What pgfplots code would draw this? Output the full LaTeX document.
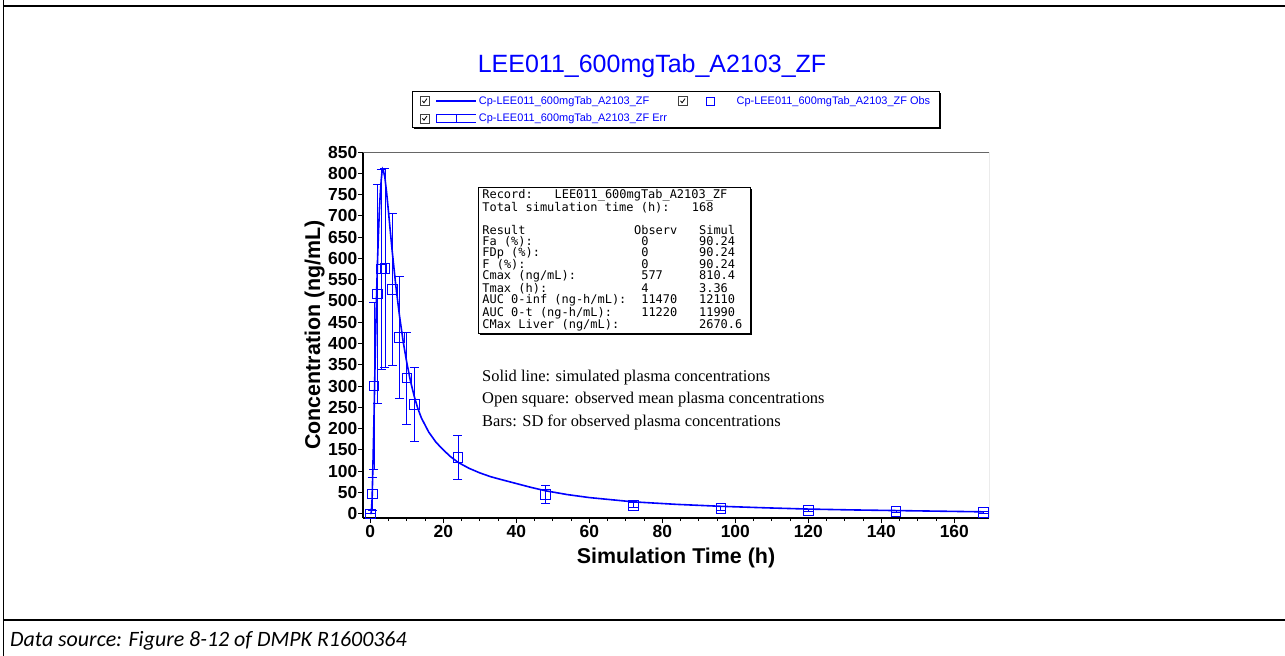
\documentclass[border=0pt]{standalone}
\usepackage{fontspec}
\setmainfont{Liberation Sans}
\newfontfamily\timesfont{Liberation Serif}
\newfontfamily\monofont{DejaVu Sans Mono}
\newfontfamily\capfont{Carlito}
\usepackage{pgfplots}
\usepackage{pgfplotstable}
\pgfplotsset{compat=1.18}
\definecolor{pkblue}{RGB}{0,0,255}
\newcommand\fs[1]{\fontsize{#1}{#1}\selectfont}
\newlength\cw
\setlength{\cw}{7.224bp}
\newcommand\col[2]{\makebox[#1\cw][l]{#2}}
\newcommand\s{\hspace*{\cw}}
\newcommand\chkbox{%
  \draw[black!75, line width=0.7bp, fill=white] (0bp,-4.5bp) rectangle (9bp,4.5bp);
  \draw[black, line width=0.8bp] (2.2bp,0.2bp) -- (3.8bp,-1.8bp) -- (6.8bp,2.4bp);}

\pgfplotstableread{
t c
0 0
0.25 1
0.5 35
0.75 125
1 220
1.25 330
1.5 430
1.75 525
2 600
2.25 662
2.5 715
2.75 755
3 785
3.2 802
3.36 810
3.6 806
4 790
4.5 752
5 708
5.5 662
6 617
7 535
8 465
9 405
10 355
11 312
12 277
13 248
14 225
16 192
18 168
20 150
22 134
24 121
27 107
30 96
33 87
36 80
40 71
44 62
48 54
54 45
60 38
66 33
72 28
84 22
96 17.5
108 14
120 11
132 9
144 7.5
156 6
168 4.5
}\simtable

\pgfplotstableread{
t c sd
0 0 0
0.5 47 38
1 300 196
2 517 258
3 575 235
4 577 234
6 527 178
8 414 144
10 319 108
12 257 86
24 133 52
48 45 21
72 20 6
96 13 4
120 8 3
144 5 2
168 3 2
}\obstable

\begin{document}
\begin{tikzpicture}
\useasboundingbox (0,0) rectangle (1285bp,-656bp);
\fill[white] (0,0) rectangle (1285bp,-656bp);
% outer frame
\draw[black, line width=2.4bp] (3bp,-6bp) -- (1285bp,-6bp);
\draw[black, line width=1.2bp] (3.5bp,0bp) -- (3.5bp,-656bp);
\draw[black, line width=2bp] (3bp,-620bp) -- (1285bp,-620bp);
\node[anchor=base west, inner sep=0pt, font=\capfont\itshape\fs{22}] at (10bp,-646bp) {Data source: Figure 8-12 of DMPK R1600364};

\begin{axis}[
  at={(363bp,-518bp)}, anchor=south west,
  scale only axis, width=626bp, height=366bp,
  xmin=-2, xmax=169.5, ymin=-10, ymax=850,
  axis x line*=bottom, axis y line*=left,
  axis line style={line width=1.3bp, black},
  xtick={0,20,...,160}, ytick={0,50,...,850},
  minor x tick num=3,
  tick align=outside,
  major tick length=5bp, minor tick length=3bp,
  tick style={black, line width=0.9bp},
  /pgf/number format/assume math mode=true,
  ticklabel style={font=\bfseries\fs{17.5}},
  yticklabel style={inner xsep=0.5bp},
  xticklabel style={inner ysep=2bp},
  xlabel={Simulation Time (h)}, ylabel={Concentration (ng/mL)},
  label style={font=\bfseries\fs{21.5}},
  xlabel style={at={(axis description cs:0.5,-0.123)}, anchor=base},
  ylabel style={at={(axis description cs:-0.0687,0.5)}, anchor=base},
  title={LEE011\_600mgTab\_A2103\_ZF},
  title style={at={(axis description cs:0.4617,1.202)}, anchor=base, font=\fs{25.1}, text=pkblue},
  legend columns=2,
  legend cell align=left,
  legend style={name=lgd, at={(axis description cs:0.5,1)}, anchor=south, yshift=24bp,
    draw=black, line width=0.8bp, fill=white, font=\fs{11}, text=pkblue,
    inner xsep=7bp, inner ysep=2.5bp, column sep=0bp, row sep=4bp},
]
\addplot[pkblue, line width=1.6bp, no marks,
  legend image code/.code={\chkbox
    \draw[pkblue, line width=1.5bp] (16bp,0bp) -- (56bp,0bp);}]
  table[x=t, y=c]{\simtable};
\addlegendentry{\makebox[197bp][l]{Cp-LEE011\_600mgTab\_A2103\_ZF}}

\addplot[pkblue, only marks, mark=square, mark size=4.8bp, mark options={line width=0.8bp, draw=pkblue, fill=none},
  error bars/.cd, y dir=both, y explicit,
  error bar style={draw=pkblue, solid, line width=0.8bp},
  error mark options={draw=pkblue, rotate=90, mark size=4.5bp, line width=0.8bp},
  /pgfplots/legend image code/.code={\chkbox
    \draw[pkblue, line width=0.8bp] (28bp,-4bp) rectangle (36bp,4bp);
    \path (56bp,0bp);}]
  table[x=t, y=c, y error=sd]{\obstable};
\addlegendentry{Cp-LEE011\_600mgTab\_A2103\_ZF Obs}

\addlegendimage{legend image code/.code={\chkbox
    \draw[pkblue, line width=0.7bp] (16bp,-4bp) -- (56bp,-4bp);
    \draw[pkblue, line width=0.7bp] (16bp,4bp) -- (56bp,4bp);
    \draw[pkblue, line width=0.7bp] (16bp,4bp) -- (16bp,-4bp);
    \draw[pkblue, line width=0.7bp] (36bp,4bp) -- (36bp,-4bp);}}
\addlegendentry{Cp-LEE011\_600mgTab\_A2103\_ZF Err}

\draw[black!60, line width=0.9bp] (rel axis cs:0,1) -- (rel axis cs:1,1) -- (rel axis cs:1,0);
\end{axis}
% legend shadow
\draw[black, line width=1.6bp] ([xshift=1.5bp,yshift=-0.4bp]lgd.south west) -- ([xshift=0.4bp,yshift=-0.4bp]lgd.south east) -- ([xshift=0.4bp,yshift=-1.5bp]lgd.north east);

% info box
\node[anchor=north west, draw=black, line width=0.8bp, fill=white, inner xsep=4bp, inner ysep=2.5bp,
  text width=264bp, align=left, font=\monofont\fontsize{12}{11.1}\selectfont]
  (info) at (478bp,-187bp) {%
  \col{10}{Record:}LEE011\_600mgTab\_A2103\_ZF\\
  \col{29}{Total\s simulation\s time\s (h):}168\\
  \mbox{}\\
  \col{21}{Result}\col{9}{Observ}Simul\\
  \col{22}{Fa\s (\%):}\col{8}{0}90.24\\
  \col{22}{FDp\s (\%):}\col{8}{0}90.24\\
  \col{22}{F\s (\%):}\col{8}{0}90.24\\
  \col{22}{Cmax\s (ng/mL):}\col{8}{577}810.4\\
  \col{22}{Tmax\s (h):}\col{8}{4}3.36\\
  \col{22}{AUC\s 0-inf\s (ng-h/mL):}\col{8}{11470}12110\\
  \col{22}{AUC\s 0-t\s (ng-h/mL):}\col{8}{11220}11990\\
  \col{30}{CMax\s Liver\s (ng/mL):}2670.6};
\draw[black, line width=1.6bp] ([xshift=1.5bp,yshift=-0.4bp]info.south west) -- ([xshift=0.4bp,yshift=-0.4bp]info.south east) -- ([xshift=0.4bp,yshift=-1.5bp]info.north east);

% annotations
\node[anchor=base west, inner sep=0pt, font=\timesfont\fs{16.5}] at (482bp,-381bp) {Solid line: simulated plasma concentrations};
\node[anchor=base west, inner sep=0pt, font=\timesfont\fs{16.5}] at (482bp,-403.5bp) {Open square: observed mean plasma concentrations};
\node[anchor=base west, inner sep=0pt, font=\timesfont\fs{16.5}] at (482bp,-426bp) {Bars: SD for observed plasma concentrations};
\end{tikzpicture}
\end{document}
